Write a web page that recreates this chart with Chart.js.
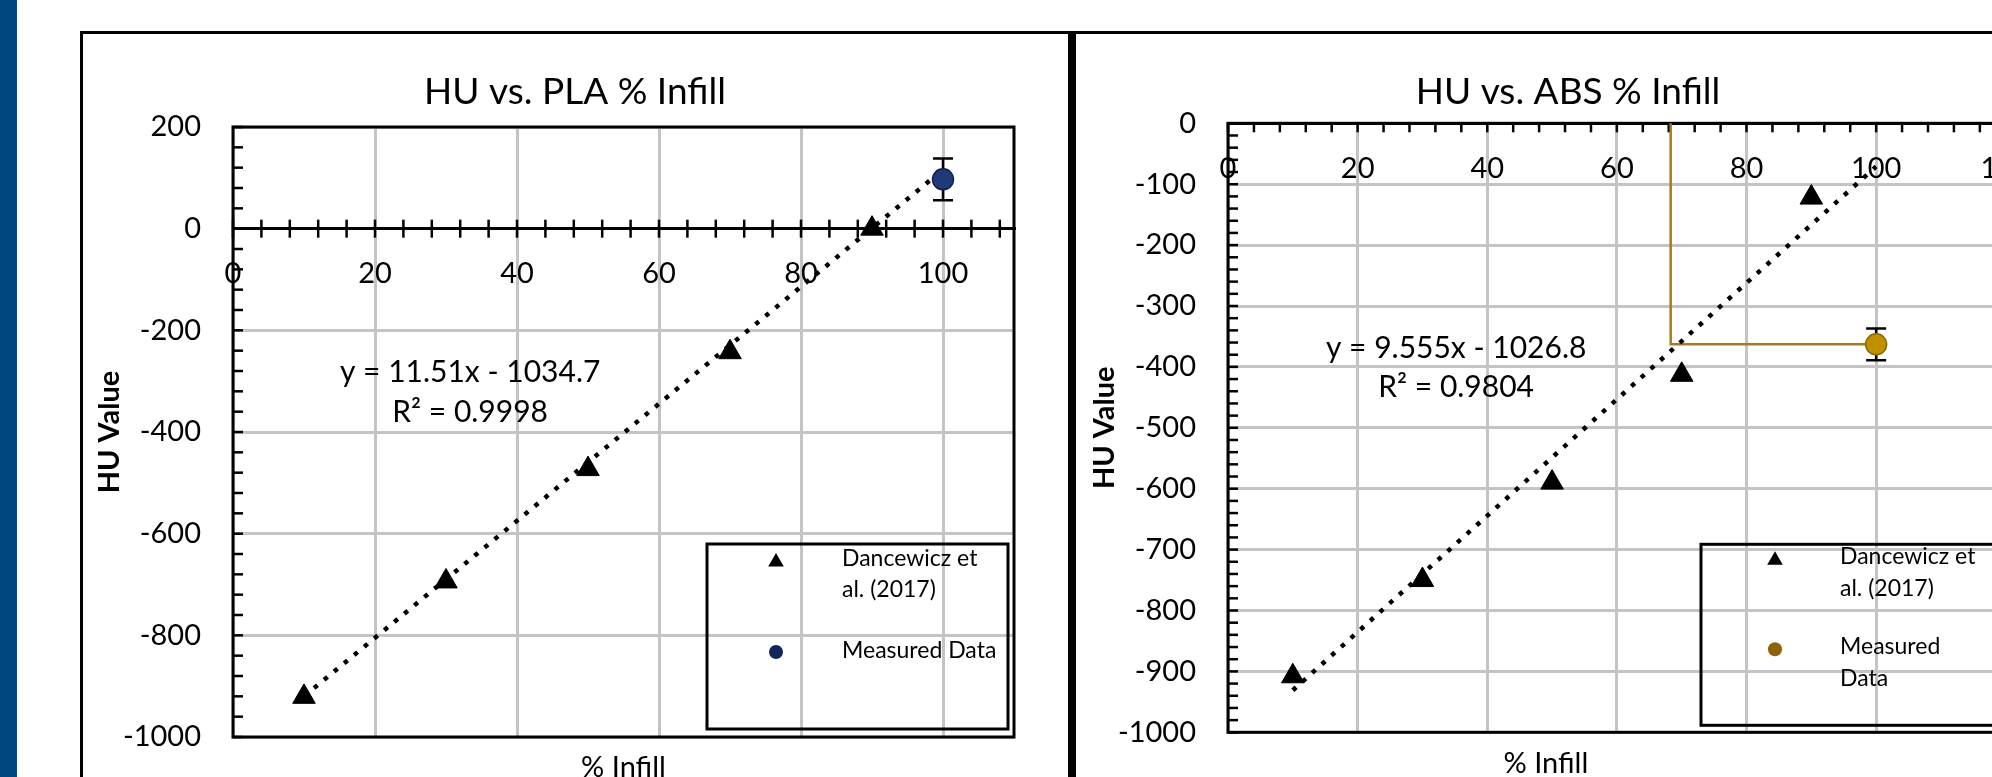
<!DOCTYPE html>
<html>
<head>
<meta charset="utf-8">
<title>HU vs. % Infill</title>
<script src="https://cdn.jsdelivr.net/npm/chart.js"></script>
<style>
  html, body { margin: 0; padding: 0; background: #fff; }
  body { width: 1992px; height: 777px; overflow: hidden; position: relative; }
  .bar { position: absolute; left: 0; top: 0; width: 17px; height: 777px; background: #00467f; }
  .frame { position: absolute; top: 31px; height: 800px; box-sizing: border-box; border: 3px solid #000; border-bottom: none; }
  #plaFrame { left: 80px; width: 992px; border-right-width: 4px; }
  #absFrame { left: 1072px; width: 1000px; border-left-width: 4px; }
  canvas { position: absolute; top: 35px; }
  #pla { left: 84px; }
  #abs { left: 1077px; }
</style>
</head>
<body>
<div class="bar"></div>
<div class="frame" id="plaFrame"></div>
<div class="frame" id="absFrame"></div>
<canvas id="pla" width="982" height="760"></canvas>
<canvas id="abs" width="982" height="760"></canvas>
<script>
// ---- data ----
const infill = [10, 30, 50, 70, 90]

// PLA panel
const plaTitle = 'HU vs. PLA % Infill'
const plaDancewicz = [-921, -694, -473, -243, 0]
const plaMeasuredInfill = [100]
const plaMeasured = [97]
const plaMeasuredErr = [41]
const plaTrendInfill = [10, 100]
const plaTrend = [-920, 116]
const plaEquation = ['y = 11.51x - 1034.7', 'R² = 0.9998']
const plaLegend = [['Dancewicz et', 'al. (2017)'], ['Measured Data']]

// ABS panel
const absTitle = 'HU vs. ABS % Infill'
const absDancewicz = [-908, -750, -590, -413, -122]
const absMeasuredInfill = [100]
const absMeasured = [-363]
const absMeasuredErr = [26]
const absTrendInfill = [10, 100]
const absTrend = [-931, -71]
const absGuideInfill = [100, 68.3, 68.3]
const absGuideHU = [-363, -363, 0]
const absEquation = ['y = 9.555x - 1026.8', 'R² = 0.9804']
const absLegend = [['Dancewicz et', 'al. (2017)'], ['Measured', 'Data']]

const xTitle = '% Infill'
const yTitle = 'HU Value'

Chart.defaults.font.family = 'Lato'
Chart.defaults.color = '#000'

const pts = (xs, ys) => xs.map((x, i) => ({ x: x, y: ys[i] }))

function marker (ctx, style, x, y, r, color) {
  ctx.fillStyle = color
  ctx.beginPath()
  if (style === 'triangle') {
    ctx.moveTo(x, y - r)
    ctx.lineTo(x + r * 0.866, y + r / 2)
    ctx.lineTo(x - r * 0.866, y + r / 2)
    ctx.closePath()
  } else {
    ctx.arc(x, y, r, 0, Math.PI * 2)
  }
  ctx.fill()
}

// excel-ish extras: plot frame, minor ticks, error bars, labels, boxed legend
const decor = {
  id: 'decor',
  beforeDatasetsDraw (chart, args, o) {
    const { ctx, chartArea: a, scales: { x, y } } = chart
    ctx.save()
    ctx.strokeStyle = '#000'
    ctx.lineWidth = 3
    ctx.strokeRect(a.left, a.top, a.right - a.left, a.bottom - a.top)

    ctx.lineWidth = 2.5
    const axisY = y.getPixelForValue(0)
    for (let v = x.min; v <= x.max + 1e-6; v += o.xMinor) {
      const px = x.getPixelForValue(v)
      ctx.beginPath()
      ctx.moveTo(px, axisY + o.xTick[0])
      ctx.lineTo(px, axisY + o.xTick[1])
      ctx.stroke()
    }
    for (let v = y.min; v <= y.max + 1e-6; v += o.yMinor) {
      const py = y.getPixelForValue(v)
      ctx.beginPath()
      ctx.moveTo(a.left, py)
      ctx.lineTo(a.left + o.yTick, py)
      ctx.stroke()
    }

    chart.data.datasets.forEach((ds) => {
      if (!ds.errorBars) return
      ds.data.forEach((p, j) => {
        const px = x.getPixelForValue(p.x)
        const t = y.getPixelForValue(p.y + ds.errorBars[j])
        const b = y.getPixelForValue(p.y - ds.errorBars[j])
        ctx.beginPath()
        ctx.moveTo(px, t); ctx.lineTo(px, b)
        ctx.moveTo(px - 10, t); ctx.lineTo(px + 10, t)
        ctx.moveTo(px - 10, b); ctx.lineTo(px + 10, b)
        ctx.stroke()
      })
    })
    ctx.restore()
  },
  afterDatasetsDraw (chart, args, o) {
    const { ctx, chartArea: a, scales: { x, y } } = chart
    ctx.save()
    ctx.fillStyle = '#000'
    ctx.textBaseline = 'middle'
    ctx.textAlign = 'center'

    ctx.font = '30px Lato'
    o.notes.forEach((n) => {
      ctx.fillText(n.text, x.getPixelForValue(n.x), y.getPixelForValue(n.y))
    })

    ctx.font = '29px Lato'
    ctx.fillText(o.xTitle.text, (a.left + a.right) / 2 + o.xTitle.dx, a.bottom + o.xTitle.dy)

    const lg = o.legend
    const bx = a.left + lg.left
    const by = a.top + lg.top
    ctx.strokeStyle = '#000'
    ctx.lineWidth = 3
    ctx.strokeRect(bx, by, lg.width, lg.height)
    ctx.textAlign = 'left'
    ctx.font = '23px Lato'
    lg.rows.forEach((row) => {
      marker(ctx, row.style, bx + lg.markerX, by + row.markerY, row.r, row.color)
      ctx.fillStyle = '#000'
      row.lines.forEach((line, k) => {
        ctx.fillText(line, bx + lg.textX, by + row.textY + k * lg.lineGap)
      })
    })
    ctx.restore()
  }
}

function buildChart (id, p) {
  const datasets = [
    {
      label: 'Dancewicz et al. (2017)',
      data: pts(infill, p.dancewicz),
      pointStyle: 'triangle',
      pointRadius: 13,
      backgroundColor: '#000',
      borderColor: '#000',
      borderWidth: 1
    },
    {
      label: 'Measured Data',
      data: pts(p.measuredInfill, p.measured),
      errorBars: p.measuredErr,
      pointStyle: 'circle',
      pointRadius: 10.5,
      backgroundColor: p.color,
      borderColor: p.edge,
      borderWidth: 1.5
    },
    {
      label: 'Linear trend',
      data: pts(p.trendInfill, p.trend),
      showLine: true,
      pointRadius: 0,
      borderColor: '#000',
      borderWidth: 4.5,
      borderDash: [4.5, 8.5],
      borderCapStyle: 'butt'
    }
  ]
  if (p.guideInfill) {
    datasets.push({
      label: 'Read-off',
      data: pts(p.guideInfill, p.guideHU),
      showLine: true,
      pointRadius: 0,
      borderColor: '#a47b26',
      borderWidth: 2.5
    })
  }

  return new Chart(document.getElementById(id), {
    type: 'scatter',
    data: { datasets: datasets },
    plugins: [decor],
    options: {
      responsive: false,
      animation: false,
      layout: { padding: { left: 0, right: 0, top: 0, bottom: p.padBottom } },
      plugins: {
        legend: { display: false },
        tooltip: { enabled: false },
        title: {
          display: true,
          text: p.title,
          color: '#000',
          font: { size: 37, weight: 'normal' },
          padding: { top: 34.8, bottom: p.titleGap }
        },
        decor: {
          xMinor: 4,
          xTick: p.xTick,
          yMinor: p.yMinor,
          yTick: 10,
          notes: [
            { text: p.equation[0], x: p.eqAt[0], y: p.eqAt[1] },
            { text: p.equation[1], x: p.eqAt[0], y: p.eqAt[2] }
          ],
          xTitle: { text: xTitle, dx: p.xTitleDx, dy: 31 },
          legend: p.legend
        }
      },
      scales: {
        x: {
          type: 'linear',
          min: 0,
          max: p.xMax,
          position: { y: 0 },
          grid: { color: '#c4c4c4', lineWidth: 3, drawTicks: false },
          border: { display: true, color: '#000', width: 3 },
          ticks: { stepSize: 20, includeBounds: false, autoSkip: false, maxRotation: 0, padding: 28, color: '#000', font: { size: 29 }, callback: (v) => String(v) }
        },
        y: {
          type: 'linear',
          min: p.yMin,
          max: p.yMax,
          grid: { color: '#c4c4c4', lineWidth: 3, drawTicks: false },
          border: { display: false },
          ticks: { stepSize: p.yStep, autoSkip: false, padding: 32, color: '#000', font: { size: 29 }, callback: (v) => String(v) },
          title: { display: true, text: yTitle, color: '#000', font: { size: 29, weight: 'bold' }, padding: { top: p.yTitlePad, bottom: 0 } },
          afterFit: (s) => { s.width = p.yWidth }
        },
        spacer: {
          type: 'linear',
          position: 'right',
          grid: { display: false, drawTicks: false },
          border: { display: false },
          ticks: { display: false },
          afterFit: (s) => { s.width = p.spacer }
        }
      }
    }
  })
}

buildChart('pla', {
  title: plaTitle,
  dancewicz: plaDancewicz,
  measuredInfill: plaMeasuredInfill,
  measured: plaMeasured,
  measuredErr: plaMeasuredErr,
  trendInfill: plaTrendInfill,
  trend: plaTrend,
  equation: plaEquation,
  eqAt: [33.4, -282, -361],
  color: '#1f3a78',
  edge: '#0e1f4b',
  xMax: 110,
  yMin: -1000,
  yMax: 200,
  yStep: 200,
  yMinor: 40,
  xTick: [-9, 9],
  yWidth: 149,
  spacer: 52,
  padBottom: 58,
  titleGap: 12.8,
  yTitlePad: 8.6,
  xTitleDx: 0,
  legend: {
    left: 474, top: 417, width: 301, height: 185, markerX: 69, textX: 135, lineGap: 31,
    rows: [
      { lines: plaLegend[0], style: 'triangle', color: '#000', r: 9, markerY: 18, textY: 15 },
      { lines: plaLegend[1], style: 'circle', color: '#13265a', r: 7, markerY: 108, textY: 107 }
    ]
  }
})

buildChart('abs', {
  title: absTitle,
  dancewicz: absDancewicz,
  measuredInfill: absMeasuredInfill,
  measured: absMeasured,
  measuredErr: absMeasuredErr,
  trendInfill: absTrendInfill,
  trend: absTrend,
  guideInfill: absGuideInfill,
  guideHU: absGuideHU,
  equation: absEquation,
  eqAt: [35.2, -369.5, -434],
  color: '#bf9000',
  edge: '#8c6900',
  xMax: 120,
  yMin: -1000,
  yMax: 0,
  yStep: 100,
  yMinor: 20,
  xTick: [0, 9],
  yWidth: 151,
  spacer: 46.5,
  padBottom: 62.7,
  titleGap: 9.1,
  yTitlePad: 10,
  xTitleDx: -71,
  legend: {
    left: 473, top: 421, width: 300, height: 181, markerX: 74, textX: 139, lineGap: 31.6,
    rows: [
      { lines: absLegend[0], style: 'triangle', color: '#000', r: 9, markerY: 16, textY: 12.4 },
      { lines: absLegend[1], style: 'circle', color: '#8f6208', r: 7, markerY: 105, textY: 102.4 }
    ]
  }
})
</script>
</body>
</html>
